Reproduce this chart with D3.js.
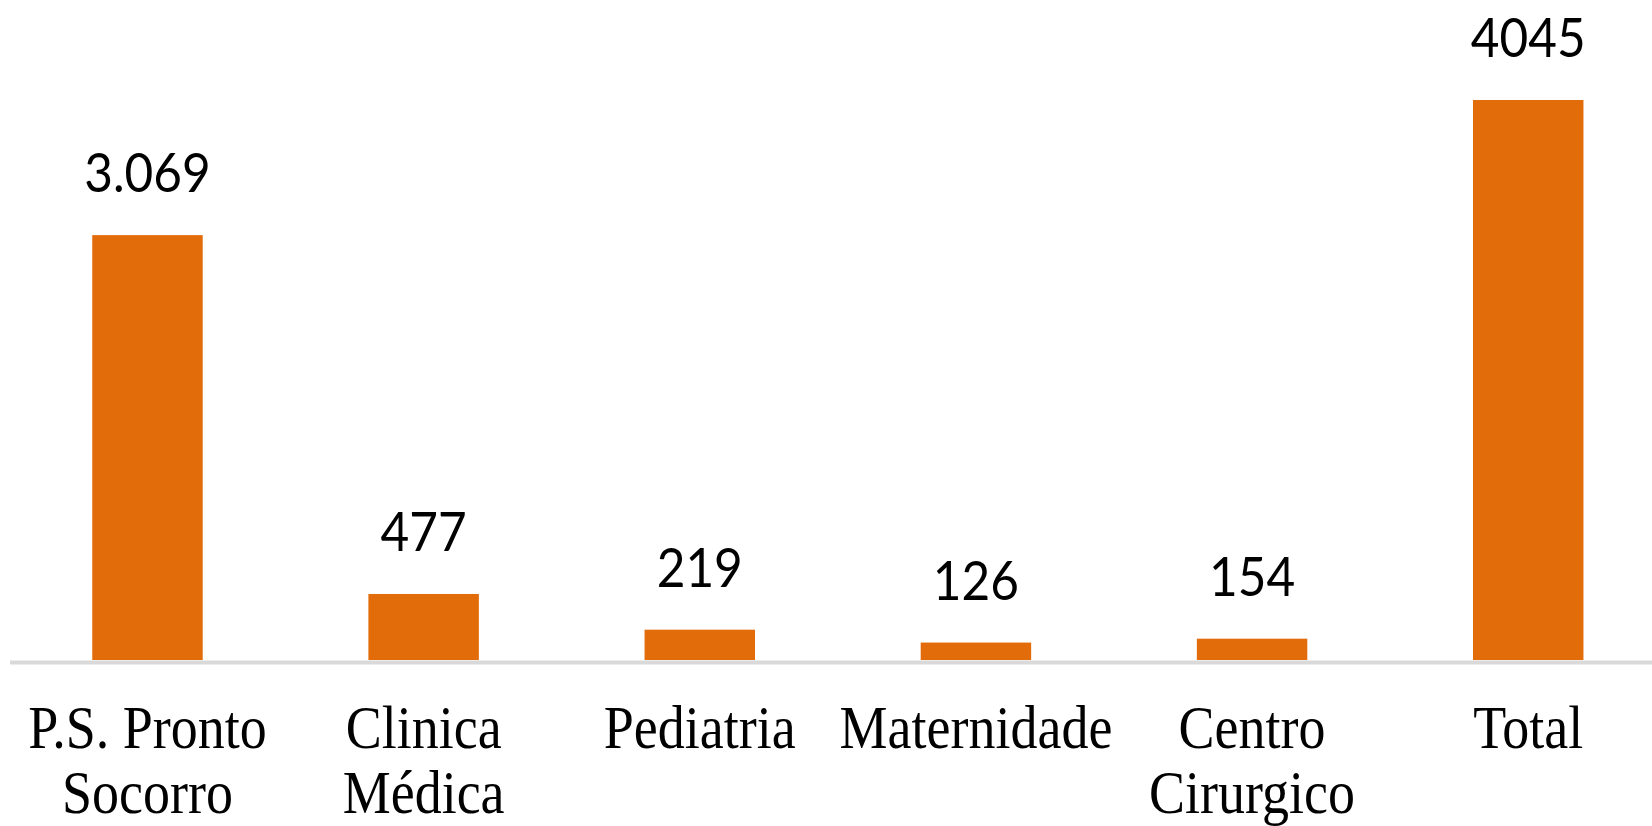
<!DOCTYPE html>
<html>
<head>
<meta charset="utf-8">
<script src="https://cdn.jsdelivr.net/npm/d3@7"></script>
<style>
  body { margin: 0; background: #fff; }
</style>
</head>
<body>
<div class="chart"></div>
<script>
// chart data
var categories = [["P.S. Pronto", "Socorro"], ["Clinica", "Médica"], ["Pediatria"], ["Maternidade"], ["Centro", "Cirurgico"], ["Total"]];
var values = [3069, 477, 219, 126, 154, 4045];
var valueLabels = ["3.069", "477", "219", "126", "154", "4045"];

var svgWidth = 1652;
var svgHeight = 826;

var svg = d3.select(".chart")
  .append("svg")
  .attr("width", svgWidth)
  .attr("height", svgHeight);

var baseY = 660;

var keys = categories.map(function(c, i) { return i; });

var xScale = d3.scaleBand()
  .domain(keys)
  .range([9.4, 1666.3])
  .paddingInner(0.6)
  .paddingOuter(0.3);

var yScale = d3.scaleLinear()
  .domain([0, 4045])
  .range([baseY, 100]);

// bars
svg.selectAll("rect.bar")
  .data(values)
  .enter()
  .append("rect")
  .attr("class", "bar")
  .attr("x", (d, i) => xScale(i))
  .attr("y", d => yScale(d))
  .attr("width", xScale.bandwidth())
  .attr("height", d => baseY - yScale(d))
  .attr("fill", "#e36c0a");

// category axis line
svg.append("line")
  .attr("x1", 10)
  .attr("x2", svgWidth)
  .attr("y1", baseY + 2.5)
  .attr("y2", baseY + 2.5)
  .attr("stroke", "#d9d9d9")
  .attr("stroke-width", 4);

// value labels (source image is a little stretched vertically)
svg.selectAll("text.value")
  .data(values)
  .enter()
  .append("text")
  .attr("class", "value")
  .attr("transform", (d, i) => `translate(${xScale(i) + xScale.bandwidth() / 2}, ${yScale(d) - 43}) scale(1, 1.08)`)
  .attr("text-anchor", "middle")
  .attr("font-family", "Lato, 'Open Sans', sans-serif")
  .attr("font-size", "49.5px")
  .attr("fill", "#000")
  .text((d, i) => valueLabels[i]);

// category labels
var catGroups = svg.selectAll("g.cat")
  .data(categories)
  .enter()
  .append("g")
  .attr("class", "cat")
  .attr("transform", (d, i) => `translate(${xScale(i) + xScale.bandwidth() / 2}, 748) scale(1, 1.12)`);

catGroups.selectAll("text")
  .data(d => d)
  .enter()
  .append("text")
  .attr("x", 0)
  .attr("y", (d, j) => j * 58)
  .attr("text-anchor", "middle")
  .attr("font-family", "'Liberation Serif', 'Times New Roman', serif")
  .attr("font-size", "54px")
  .attr("fill", "#000")
  .text(d => d);
</script>
</body>
</html>
